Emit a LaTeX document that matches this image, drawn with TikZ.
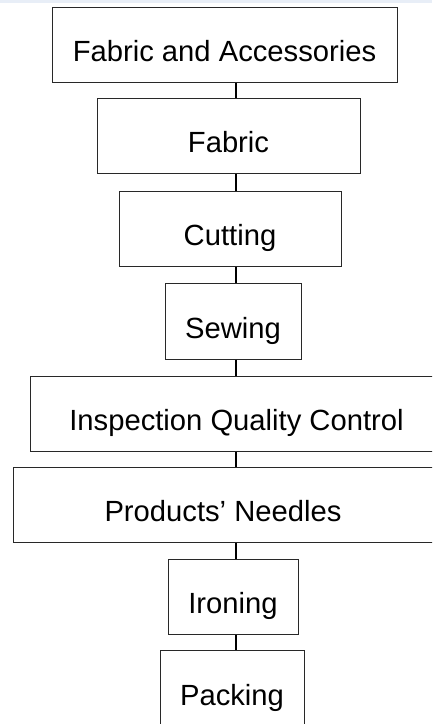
\documentclass[tikz,border=0pt]{standalone}
\usepackage{fontspec}
\setmainfont{Liberation Sans}
\definecolor{topstrip}{RGB}{232,238,247}
\definecolor{boxline}{RGB}{40,40,40}
\begin{document}
\begin{tikzpicture}[x=1pt,y=-1pt,
  procbox/.style={draw=boxline, line width=1pt, fill=white, inner sep=0pt,
    text height=40pt, text depth=6pt,
    font=\fontsize{29.2}{34}\selectfont, text=black},
  link/.style={draw=black, line width=2.2pt}]
\useasboundingbox (0,0) rectangle (432,724);
\clip (0,0) rectangle (432,724);
\fill[topstrip] (0,0) rectangle (432,3);
\coordinate (c) at (236,0);
\node[procbox, minimum width=345pt, minimum height=75pt] (b1) at (224.5,44.5) {Fabric and Accessories};
\node[procbox, minimum width=263pt, minimum height=75pt] (b2) at (228.5,135.5) {Fabric};
\node[procbox, minimum width=222pt, minimum height=75pt] (b3) at (230,228.5) {Cutting};
\node[procbox, minimum width=136pt, minimum height=76pt] (b4) at (233,321) {Sewing};
\node[procbox, minimum width=413pt, minimum height=75pt] (b5) at (236.5,413.5) {Inspection Quality Control};
\node[procbox, minimum width=420pt, minimum height=75pt] (b6) at (223,504.5) {Products’ Needles};
\node[procbox, minimum width=130pt, minimum height=75pt] (b7) at (233,596.5) {Ironing};
\node[procbox, minimum width=144pt, minimum height=76pt] (b8) at (232,688) {Packing};
\draw[link] (b1.south -| c) -- (b2.north -| c);
\draw[link] (b2.south -| c) -- (b3.north -| c);
\draw[link] (b3.south -| c) -- (b4.north -| c);
\draw[link] (b4.south -| c) -- (b5.north -| c);
\draw[link] (b5.south -| c) -- (b6.north -| c);
\draw[link] (b6.south -| c) -- (b7.north -| c);
\draw[link] (b7.south -| c) -- (b8.north -| c);
\end{tikzpicture}
\end{document}
